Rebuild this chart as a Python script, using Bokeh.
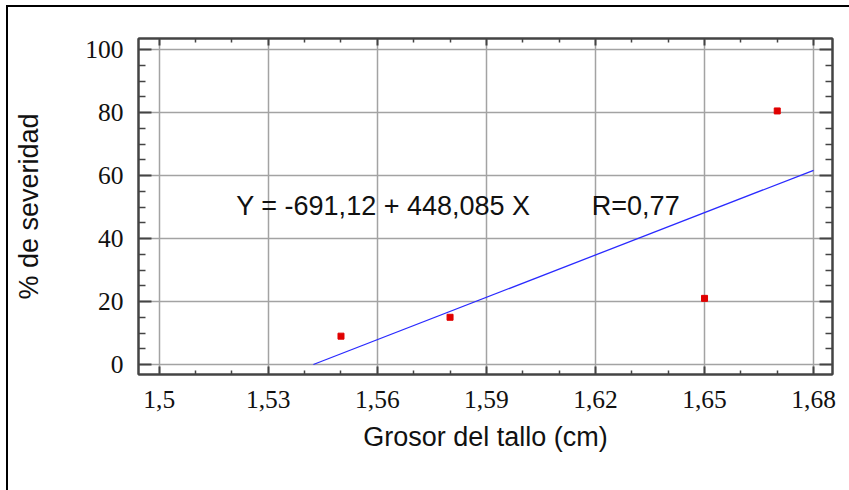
from bokeh.plotting import figure
from bokeh.models import (Range1d, LinearAxis, FixedTicker, Label, Grid,
                          ColumnDataSource, CustomLabelingPolicy)
from bokeh.embed import file_html
from bokeh.resources import INLINE

# ---- data ----
grosor = [1.55, 1.58, 1.65, 1.67]          # Grosor del tallo (cm)
severidad = [9.0, 15.0, 21.0, 80.5]        # % de severidad

# fitted line endpoints (Y = -691,12 + 448,085 X), as drawn
fit_x = [1.5424, 1.68]
fit_y = [0.0, 61.66]

x_ticks = [1.50, 1.53, 1.56, 1.59, 1.62, 1.65, 1.68]
x_tick_labels = ["1,5", "1,53", "1,56", "1,59", "1,62", "1,65", "1,68"]
x_minor = [1.49, 1.51, 1.52, 1.54, 1.55, 1.57, 1.58, 1.60, 1.61, 1.63, 1.64, 1.66, 1.67]
y_ticks = [0, 20, 40, 60, 80, 100]
y_tick_labels = ["0", "20", "40", "60", "80", "100"]
y_minor = [5, 10, 15, 25, 30, 35, 45, 50, 55, 65, 70, 75, 85, 90, 95]

equation_text = "Y = -691,12 + 448,085 X"
r_text = "R=0,77"
x_title = "Grosor del tallo (cm)"
y_title = "% de severidad"

# ---- figure ----
p = figure(width=849, height=490, output_backend="svg", toolbar_location=None,
           x_range=Range1d(1.4943, 1.6852), y_range=Range1d(-3.17, 103.5),
           x_axis_location=None, y_axis_location=None,
           min_border_left=138, min_border_right=17,
           min_border_top=38, min_border_bottom=116)
p.background_fill_color = "white"
p.border_fill_color = None
# page frame line (left and top) drawn by the host element
p.styles = {"background-color": "white",
            "box-shadow": "inset 6px 5px 0 0 white, inset 8px 7px 0 0 black"}
p.outline_line_color = "#444444"
p.outline_line_width = 2
# drop default grids; explicit ones are added below
p.center = [c for c in p.center if not isinstance(c, Grid)]

axis_col = "#444444"
tick_font = "Liberation Serif"
title_font = "Liberation Sans"

hide_labels = CustomLabelingPolicy(code="""
    for (const i of indices) indices.unset(i)
    return indices
""")

def make_axis(ticks, minor, labels, show_labels, tin, tmin):
    ax = LinearAxis(ticker=FixedTicker(ticks=ticks, minor_ticks=minor))
    ax.axis_line_color = axis_col
    ax.axis_line_width = 2
    ax.major_tick_line_color = axis_col
    ax.minor_tick_line_color = axis_col
    ax.major_tick_line_width = 2
    ax.minor_tick_line_width = 1.5
    ax.major_tick_in = tin
    ax.major_tick_out = 0
    ax.minor_tick_in = tmin
    ax.minor_tick_out = 0
    if show_labels:
        ax.major_label_overrides = {t: l for t, l in zip(ticks, labels)}
        ax.major_label_text_font = tick_font
        ax.major_label_text_font_size = "25.5px"
        ax.major_label_text_color = "#111111"
    else:
        ax.major_label_policy = hide_labels
        ax.major_label_text_font_size = "0px"
        ax.major_label_standoff = 0
    return ax

bottom = make_axis(x_ticks, x_minor, x_tick_labels, True, 8, 4)
bottom.major_label_standoff = 16
bottom.axis_label = x_title
bottom.axis_label_text_font = title_font
bottom.axis_label_text_font_style = "normal"
bottom.axis_label_text_font_size = "27px"
bottom.axis_label_text_color = "#111111"
bottom.axis_label_standoff = 11
p.add_layout(bottom, "below")

top = make_axis(x_ticks, x_minor, x_tick_labels, False, 7, 4)
p.add_layout(top, "above")

left = make_axis(y_ticks, y_minor, y_tick_labels, True, 13, 7)
left.major_label_standoff = 15
left.axis_label = y_title
left.axis_label_text_font = title_font
left.axis_label_text_font_style = "normal"
left.axis_label_text_font_size = "27px"
left.axis_label_text_color = "#111111"
left.axis_label_standoff = 38
p.add_layout(left, "left")

right = make_axis(y_ticks, y_minor, y_tick_labels, False, 13, 7)
p.add_layout(right, "right")

gx = Grid(dimension=0, ticker=FixedTicker(ticks=x_ticks), grid_line_color="#a3a3a3", grid_line_width=1.5)
gy = Grid(dimension=1, ticker=FixedTicker(ticks=y_ticks), grid_line_color="#a3a3a3", grid_line_width=1.5)
p.add_layout(gx, "center")
p.add_layout(gy, "center")

# regression line
p.line(fit_x, fit_y, line_color="#2a2aff", line_width=1.3)

# data points
src = ColumnDataSource(dict(x=grosor, y=severidad))
p.scatter("x", "y", source=src, marker="square", size=6,
          fill_color="#e00000", line_color="#e00000")

# annotation
p.add_layout(Label(x=1.5212, y=50.2, text=equation_text, text_font=title_font,
                   text_font_size="27px", text_color="#111111",
                   text_baseline="alphabetic", text_align="left"))
p.add_layout(Label(x=1.619, y=50.2, text=r_text, text_font=title_font,
                   text_font_size="27px", text_color="#111111",
                   text_baseline="alphabetic", text_align="left"))

open("out.html", "w").write(file_html(p, INLINE))
